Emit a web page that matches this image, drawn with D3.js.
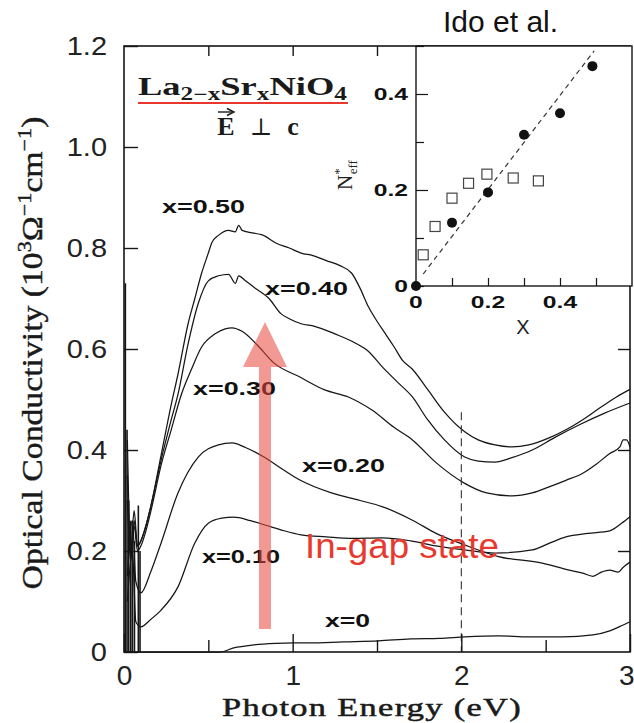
<!DOCTYPE html>
<html><head><meta charset="utf-8">
<script src="https://cdn.jsdelivr.net/npm/d3@7"></script>
<style>body{margin:0;background:#fff}svg{display:block}</style>
</head><body>
<svg id="c" width="634" height="723"></svg>
<script>
// ---------------- DATA ----------------
const xTickValues = [0, 1, 2, 3];
const xTickLabels = ["0", "1", "2", "3"];
const xMinorTicks = [0.5, 1.5, 2.5];
const yTickValues = [0, 0.2, 0.4, 0.6, 0.8, 1.0, 1.2];
const yTickLabels = ["0", "0.2", "0.4", "0.6", "0.8", "1.0", "1.2"];
const seriesLabels = ["x=0.50", "x=0.40", "x=0.30", "x=0.20", "x=0.10", "x=0"];

// [photon energy (eV), optical conductivity (10^3 / ohm cm)]
const sigma050 = [[0.02,0.30],[0.04,0.18],[0.06,0.26],[0.08,0.21],[0.10,0.22],[0.13,0.25],[0.16,0.29],[0.22,0.39],[0.28,0.49],[0.32,0.55],[0.38,0.65],[0.42,0.70],[0.46,0.75],[0.50,0.79],[0.52,0.81],[0.56,0.825],[0.62,0.835],[0.66,0.832],[0.68,0.845],[0.70,0.835],[0.76,0.83],[0.82,0.826],[0.90,0.81],[0.98,0.80],[1.05,0.79],[1.12,0.785],[1.20,0.775],[1.28,0.765],[1.35,0.75],[1.40,0.72],[1.45,0.683],[1.50,0.655],[1.55,0.63],[1.60,0.605],[1.65,0.578],[1.71,0.56],[1.80,0.52],[1.90,0.475],[2.02,0.436],[2.10,0.42],[2.20,0.41],[2.30,0.406],[2.40,0.41],[2.52,0.424],[2.62,0.44],[2.72,0.46],[2.82,0.483],[2.92,0.505],[3.0,0.52]];
const sigma040 = [[0.02,0.42],[0.04,0.20],[0.06,0.28],[0.08,0.21],[0.10,0.22],[0.13,0.25],[0.16,0.29],[0.22,0.38],[0.28,0.46],[0.32,0.51],[0.38,0.61],[0.44,0.69],[0.50,0.735],[0.56,0.745],[0.62,0.748],[0.66,0.73],[0.68,0.745],[0.72,0.735],[0.78,0.72],[0.86,0.70],[0.93,0.67],[0.98,0.66],[1.05,0.65],[1.13,0.645],[1.25,0.63],[1.37,0.612],[1.45,0.595],[1.53,0.565],[1.62,0.535],[1.71,0.505],[1.80,0.46],[1.90,0.42],[2.02,0.386],[2.10,0.378],[2.20,0.376],[2.30,0.385],[2.42,0.40],[2.56,0.426],[2.70,0.45],[2.85,0.473],[3.0,0.493]];
const sigma030 = [[0.02,0.35],[0.04,0.19],[0.06,0.25],[0.08,0.20],[0.10,0.21],[0.13,0.24],[0.16,0.28],[0.22,0.37],[0.28,0.44],[0.34,0.51],[0.40,0.56],[0.46,0.604],[0.54,0.63],[0.60,0.64],[0.64,0.642],[0.70,0.635],[0.79,0.608],[0.89,0.572],[1.04,0.545],[1.19,0.519],[1.33,0.505],[1.47,0.479],[1.60,0.445],[1.71,0.42],[1.85,0.375],[2.02,0.334],[2.15,0.315],[2.30,0.309],[2.42,0.315],[2.52,0.327],[2.62,0.34],[2.72,0.354],[2.80,0.372],[2.88,0.393],[2.94,0.406],[2.96,0.42],[2.98,0.42],[3.0,0.406]];
const sigma020 = [[0.02,0.15],[0.05,0.26],[0.07,0.14],[0.10,0.117],[0.16,0.16],[0.22,0.216],[0.32,0.315],[0.44,0.386],[0.56,0.41],[0.64,0.414],[0.72,0.405],[0.83,0.386],[0.94,0.362],[1.04,0.341],[1.23,0.315],[1.40,0.30],[1.53,0.288],[1.71,0.261],[1.85,0.235],[2.02,0.212],[2.22,0.189],[2.48,0.176],[2.64,0.162],[2.72,0.156],[2.78,0.15],[2.83,0.158],[2.88,0.162],[2.93,0.158],[2.96,0.168],[3.0,0.178]];
const sigma010 = [[0.02,0.10],[0.05,0.20],[0.07,0.06],[0.10,0.05],[0.16,0.065],[0.22,0.083],[0.32,0.129],[0.42,0.216],[0.50,0.255],[0.58,0.265],[0.65,0.267],[0.75,0.26],[0.85,0.25],[0.93,0.242],[1.05,0.232],[1.20,0.228],[1.35,0.225],[1.53,0.226],[1.70,0.22],[1.85,0.21],[2.02,0.202],[2.20,0.196],[2.42,0.202],[2.52,0.215],[2.62,0.228],[2.75,0.235],[2.88,0.24],[2.95,0.255],[3.0,0.268]];
const sigma000 = [[0.0,0.0],[0.3,0.0],[0.57,0.0],[0.65,0.008],[0.77,0.014],[0.90,0.017],[1.0,0.018],[1.1,0.018],[1.3,0.02],[1.51,0.022],[1.7,0.026],[1.87,0.027],[2.02,0.03],[2.22,0.032],[2.4,0.03],[2.6,0.03],[2.78,0.034],[2.88,0.042],[2.95,0.052],[3.0,0.06]];

// far-infrared phonon spikes: energy and peak height
const phononE   = [0.008, 0.018, 0.028, 0.04, 0.05, 0.062, 0.085, 0.095];
const phononTop = [0.73, 0.44, 0.30, 0.26, 0.24, 0.22, 0.29, 0.20];

// inset: effective electron number vs x
const insetCircX = [0, 0.1, 0.2, 0.3, 0.4, 0.49];
const insetCircN = [0, 0.132, 0.195, 0.315, 0.36, 0.458];
const insetSqX = [0.02, 0.053, 0.1, 0.146, 0.197, 0.27, 0.34];
const insetSqN = [0.065, 0.124, 0.183, 0.214, 0.233, 0.225, 0.219];
const insetFitX = [0.02, 0.495];
const insetFitN = [0.025, 0.49];
const insetYTicks = [0, 0.1, 0.2, 0.3, 0.4, 0.5];
const insetYLabels = {0: "0", 0.2: "0.2", 0.4: "0.4"};
const insetXTicks = [0.1, 0.2, 0.3, 0.4, 0.5];
const insetXLabelVals = [0, 0.2, 0.4];
const insetXLabels = ["0", "0.2", "0.4"];
const guideE = 2.0, guideTop = 0.475;

const seriesData = [sigma050, sigma040, sigma030, sigma020, sigma010, sigma000];

// ---------------- LAYOUT ----------------
const svg = d3.select("#c");
const x = d3.scaleLinear([0, 3], [124, 630]);
const y = d3.scaleLinear([0, 1.2], [652, 46]);
const ix = d3.scaleLinear([0, 0.6], [416, 632]);
const iy = d3.scaleLinear([0, 0.5], [286, 46]);
const ink = "#161616";

function stretch(sel, s) {
  sel.each(function () {
    const t = d3.select(this);
    const ax = +t.attr("x") || 0;
    t.attr("transform", `translate(${ax * (1 - s)},0) scale(${s},1)`);
  });
}
function fitWidth(sel, w) {
  sel.each(function () {
    const bw = this.getBBox().width;
    const ax = +d3.select(this).attr("x") || 0;
    const s = w / bw;
    d3.select(this).attr("transform", `translate(${ax * (1 - s)},0) scale(${s},1)`);
  });
}

// curves
const line = d3.line().x(d => x(d[0])).y(d => y(d[1])).curve(d3.curveMonotoneX);
svg.append("g").selectAll("path").data(seriesData).join("path")
  .attr("d", line).attr("fill", "none").attr("stroke", ink).attr("stroke-width", 1.25);

// phonon spikes
svg.append("g").selectAll("line").data(phononE).join("line")
  .attr("x1", d => x(d)).attr("x2", d => x(d))
  .attr("y1", y(0)).attr("y2", (d, i) => y(phononTop[i]))
  .attr("stroke", ink).attr("stroke-width", 1.6);

// dashed guide at 2 eV
svg.append("line").attr("x1", x(guideE)).attr("x2", x(guideE))
  .attr("y1", y(guideTop)).attr("y2", y(0))
  .attr("stroke", "#333").attr("stroke-width", 1.1).attr("stroke-dasharray", "8,5");

// frame
svg.append("rect").attr("x", x(0)).attr("y", y(1.2)).attr("width", x(3) - x(0)).attr("height", y(0) - y(1.2))
  .attr("fill", "none").attr("stroke", ink).attr("stroke-width", 1.6);

// axes
const gl = svg.append("g").attr("transform", `translate(${x(0)},0)`)
  .call(d3.axisLeft(y).tickValues(yTickValues).tickSize(-14).tickPadding(17)
    .tickFormat((d, i) => yTickLabels[i]));
gl.select(".domain").remove();
gl.selectAll("line").attr("stroke", ink).attr("stroke-width", 1.4);
gl.selectAll("text").attr("font-family", "Liberation Sans, Arial, sans-serif").attr("font-size", 25).attr("fill", "#222");
stretch(gl.selectAll("text"), 1.16);

const gb = svg.append("g").attr("transform", `translate(0,${y(0)})`)
  .call(d3.axisBottom(x).tickValues(xTickValues).tickSize(-18).tickPadding(13)
    .tickFormat((d, i) => xTickLabels[i]));
gb.select(".domain").remove();
gb.selectAll("line").attr("stroke", ink).attr("stroke-width", 1.4);
gb.selectAll("text").attr("font-family", "Liberation Sans, Arial, sans-serif").attr("font-size", 28).attr("fill", "#222");
// last label sits at the page edge: right-align it so it stays on the page
gb.selectAll("text").filter(d => d === 3).attr("text-anchor", "end").attr("x", 4);

const gbm = svg.append("g").attr("transform", `translate(0,${y(0)})`)
  .call(d3.axisBottom(x).tickValues(xMinorTicks).tickSize(-12).tickFormat(""));
gbm.select(".domain").remove();
gbm.selectAll("line").attr("stroke", ink).attr("stroke-width", 1.4);

const gt = svg.append("g").attr("transform", `translate(0,${y(1.2)})`)
  .call(d3.axisTop(x).tickValues([0.5, 1, 1.5]).tickSize(-10).tickFormat(""));
gt.select(".domain").remove();
gt.selectAll("line").attr("stroke", ink).attr("stroke-width", 1.4);

const gr = svg.append("g").attr("transform", `translate(${x(3)},0)`)
  .call(d3.axisRight(y).tickValues([0.2, 0.4, 0.6]).tickSize(-12).tickFormat(""));
gr.select(".domain").remove();
gr.selectAll("line").attr("stroke", ink).attr("stroke-width", 1.4);

// axis titles
const xt = svg.append("text").attr("x", 372).attr("y", 716).attr("text-anchor", "middle")
  .attr("font-family", "Liberation Serif, DejaVu Serif, serif").attr("font-size", 26).attr("fill", "#1a1a1a")
  .attr("stroke", "#1a1a1a").attr("stroke-width", 0.5)
  .attr("letter-spacing", 1).text("Photon Energy (eV)");
fitWidth(xt, 300);

const yt = svg.append("text").attr("x", 0).attr("y", 0).attr("text-anchor", "middle")
  .attr("font-family", "Liberation Serif, DejaVu Serif, serif").attr("font-size", 29).attr("fill", "#1a1a1a")
  .attr("stroke", "#1a1a1a").attr("stroke-width", 0.4);
yt.append("tspan").text("Optical Conductivity (10");
yt.append("tspan").attr("font-size", 19).attr("dy", -11).text("3");
yt.append("tspan").attr("dy", 11).text("Ω");
yt.append("tspan").attr("font-size", 19).attr("dy", -11).text("−1");
yt.append("tspan").attr("dy", 11).text("cm");
yt.append("tspan").attr("font-size", 19).attr("dy", -11).text("−1");
yt.append("tspan").attr("dy", 11).text(")");
{
  const bw = yt.node().getBBox().width;
  yt.attr("transform", `translate(42,353) rotate(-90) scale(${473 / bw},1)`);
}

// series labels
const labelLayout = [
  {x: 162, y: 213, w: 83}, {x: 265, y: 295, w: 83}, {x: 193, y: 395, w: 83},
  {x: 302, y: 472, w: 83}, {x: 202, y: 563, w: 78}, {x: 325, y: 627, w: 45}
];
svg.append("g").selectAll("text").data(seriesLabels).join("text")
  .attr("x", (d, i) => labelLayout[i].x).attr("y", (d, i) => labelLayout[i].y)
  .attr("font-family", "Liberation Sans, Arial, sans-serif").attr("font-weight", "bold")
  .attr("font-size", 18).attr("fill", "#111")
  .attr("textLength", (d, i) => labelLayout[i].w).attr("lengthAdjust", "spacingAndGlyphs")
  .text(d => d);

// compound title
const tt = svg.append("text").attr("x", 138).attr("y", 95)
  .attr("font-family", "Liberation Serif, DejaVu Serif, serif").attr("font-weight", "bold")
  .attr("font-size", 26).attr("fill", "#1a1a1a");
tt.append("tspan").text("La");
tt.append("tspan").attr("font-size", 18).attr("dy", 5).text("2−x");
tt.append("tspan").attr("dy", -5).text("Sr");
tt.append("tspan").attr("font-size", 18).attr("dy", 5).text("x");
tt.append("tspan").attr("dy", -5).text("NiO");
tt.append("tspan").attr("font-size", 18).attr("dy", 5).text("4");
fitWidth(tt, 209);
svg.append("line").attr("x1", 138).attr("x2", 348).attr("y1", 103).attr("y2", 103)
  .attr("stroke", "#e8382e").attr("stroke-width", 1.8);
const sub = svg.append("g").attr("font-family", "Liberation Serif, DejaVu Serif, serif").attr("fill", "#1a1a1a");
sub.append("text").attr("x", 226).attr("y", 135).attr("text-anchor", "middle").attr("font-weight", "bold").attr("font-size", 26).text("E");
sub.append("text").attr("x", 261).attr("y", 135).attr("text-anchor", "middle").attr("font-size", 24).text("⊥");
sub.append("text").attr("x", 293).attr("y", 135).attr("text-anchor", "middle").attr("font-weight", "bold").attr("font-size", 26).text("c");
sub.append("line").attr("x1", 218).attr("x2", 232).attr("y1", 112).attr("y2", 112).attr("stroke", "#1a1a1a").attr("stroke-width", 1.4);
sub.append("path").attr("d", "M227,108.5 L234,112 L227,115.5").attr("fill", "none").attr("stroke", "#1a1a1a").attr("stroke-width", 1.4);

// ---------------- INSET ----------------
const ins = svg.append("g");
ins.append("rect").attr("x", ix(0)).attr("y", iy(0.5)).attr("width", ix(0.6) - ix(0)).attr("height", iy(0) - iy(0.5))
  .attr("fill", "#fff").attr("stroke", ink).attr("stroke-width", 1.4);
const il = ins.append("g").attr("transform", `translate(${ix(0)},0)`)
  .call(d3.axisLeft(iy).tickValues(insetYTicks).tickSize(0).tickPadding(8)
    .tickFormat(d => insetYLabels[d] || ""));
il.select(".domain").remove();
il.selectAll(".tick").append("line").attr("x1", 0).attr("y1", 0)
  .attr("x2", d => (Math.abs(d - 0.2) < 1e-6 || Math.abs(d - 0.4) < 1e-6) ? 12 : 8).attr("y2", 0)
  .attr("stroke", ink).attr("stroke-width", 1.2);
il.selectAll("text").attr("font-family", "Liberation Sans, Arial, sans-serif").attr("font-weight", "bold")
  .attr("font-size", 17).attr("fill", "#111");
stretch(il.selectAll("text"), 1.45);

const ib = ins.append("g").attr("transform", `translate(0,${iy(0)})`)
  .call(d3.axisBottom(ix).tickValues(insetXTicks).tickSize(-8).tickFormat(""));
ib.select(".domain").remove();
ib.selectAll("line").attr("stroke", ink).attr("stroke-width", 1.2);
const ibl = ins.append("g").selectAll("text").data(insetXLabelVals).join("text")
  .attr("x", d => ix(d)).attr("y", 308).attr("text-anchor", "middle")
  .attr("font-family", "Liberation Sans, Arial, sans-serif").attr("font-weight", "bold")
  .attr("font-size", 17).attr("fill", "#111").text((d, i) => insetXLabels[i]);
stretch(ibl, 1.45);
ins.append("text").attr("x", 523).attr("y", 334).attr("text-anchor", "middle")
  .attr("font-family", "Liberation Sans, Arial, sans-serif").attr("font-size", 20).attr("fill", "#222").text("X");

// N*eff label
const nl = ins.append("text").attr("transform", "translate(352,190) rotate(-90)")
  .attr("font-family", "Liberation Serif, DejaVu Serif, serif").attr("font-size", 21).attr("fill", "#222");
nl.append("tspan").text("N");
nl.append("tspan").attr("font-size", 13).attr("dy", -9).text("*");
nl.append("tspan").attr("font-size", 13).attr("dx", -6).attr("dy", 14).text("eff");

// fit line
ins.append("line").attr("x1", ix(insetFitX[0])).attr("y1", iy(insetFitN[0]))
  .attr("x2", ix(insetFitX[1])).attr("y2", iy(insetFitN[1]))
  .attr("stroke", "#333").attr("stroke-width", 1.2).attr("stroke-dasharray", "5,4");
// open squares
ins.append("g").selectAll("rect").data(insetSqX).join("rect")
  .attr("x", d => ix(d) - 5).attr("y", (d, i) => iy(insetSqN[i]) - 5).attr("width", 10).attr("height", 10)
  .attr("fill", "#fff").attr("stroke", "#444").attr("stroke-width", 1.2);
// filled circles
ins.append("g").selectAll("circle").data(insetCircX).join("circle")
  .attr("cx", d => ix(d)).attr("cy", (d, i) => iy(insetCircN[i])).attr("r", 5)
  .attr("fill", "#111");

// ---------------- ANNOTATIONS ----------------
svg.append("path").attr("d", "M259,367 L271,367 L271,629 L259,629 Z M243,367 L265,322 L287,367 Z")
  .attr("fill", "#e8453c").attr("fill-opacity", 0.55);
const ig = svg.append("text").attr("x", 305).attr("y", 558)
  .attr("font-family", "Liberation Sans, Arial, sans-serif").attr("font-size", 35).attr("fill", "#e8392e")
  .text("In-gap state");
fitWidth(ig, 194);
svg.append("text").attr("x", 443).attr("y", 32)
  .attr("font-family", "Liberation Sans, Arial, sans-serif").attr("font-size", 30).attr("fill", "#111")
  .text("Ido et al.");
</script>
</body></html>
